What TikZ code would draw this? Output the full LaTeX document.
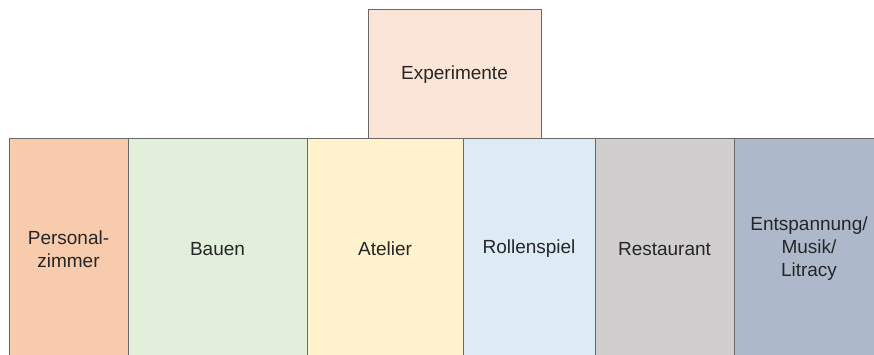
\documentclass[tikz,border=0pt]{standalone}
\usepackage{fontspec}
\setmainfont{Liberation Sans}
\usetikzlibrary{positioning}
\definecolor{rimgray}{RGB}{105,105,105}
\definecolor{personalfill}{HTML}{F8CBAD}
\definecolor{bauenfill}{HTML}{E2EFDA}
\definecolor{atelierfill}{HTML}{FFF2CC}
\definecolor{rollenfill}{HTML}{DDEBF7}
\definecolor{restfill}{HTML}{D0CECE}
\definecolor{entspfill}{HTML}{ADB9CA}
\definecolor{expfill}{HTML}{FBE5D6}

\begin{document}
\begin{tikzpicture}[x=1pt,y=-1pt,
  room/.style={draw=rimgray,line width=1pt,outer sep=0pt,inner sep=2pt,
    align=center,minimum height=220pt,text=black!85,
    font=\fontsize{19}{23}\selectfont}]
\path[use as bounding box,clip] (0,0) rectangle (874,355);
% Row of rooms
\node[room,fill=personalfill,minimum width=119pt,anchor=north west] (pers) at (9,139) {Personal-\\zimmer};
\node[room,fill=bauenfill,minimum width=179pt,right=0pt of pers] (bauen) {Bauen};
\node[room,fill=atelierfill,minimum width=156pt,right=0pt of bauen] (atelier) {Atelier};
\node[room,fill=rollenfill,minimum width=132pt,right=0pt of atelier] (rollen) {Rollenspiel};
\node[room,fill=restfill,minimum width=139pt,right=0pt of rollen] (rest) {Restaurant};
\node[room,fill=entspfill,minimum width=150pt,right=0pt of rest] (entsp) {Entspannung/\\Musik/\\Litracy};
% Room on top
\node[room,fill=expfill,minimum width=173pt,minimum height=129pt,anchor=north west] (exp) at (368,10) {Experimente};
\end{tikzpicture}
\end{document}
